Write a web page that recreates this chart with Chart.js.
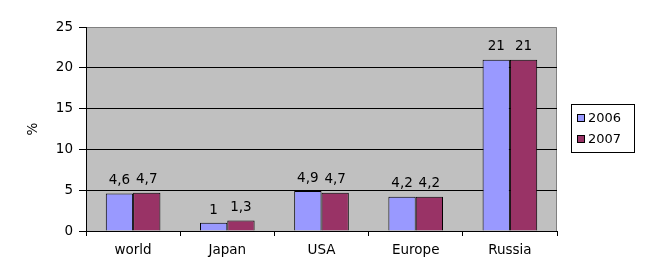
<!DOCTYPE html>
<html><head><meta charset="utf-8">
<script src="https://cdn.jsdelivr.net/npm/chart.js@4/dist/chart.umd.min.js"></script>
<style>html,body{margin:0;padding:0;background:#fff}#wrap{width:645px;height:278px}</style>
</head><body><div id="wrap"><canvas id="c" width="645" height="278"></canvas></div>
<script>
const categories = ["world", "Japan", "USA", "Europe", "Russia"];
const series2006 = [4.6, 1, 4.9, 4.2, 21];
const series2007 = [4.7, 1.3, 4.7, 4.2, 21];
const seriesNames = ["2006", "2007"];
const yTicks = [0, 5, 10, 15, 20, 25];
const FONT = "'DejaVu Sans', Verdana, sans-serif";

const bgPlugin = {
  id: 'bg',
  beforeDraw(chart) {
    const {ctx, chartArea: a} = chart;
    ctx.save();
    ctx.fillStyle = '#C0C0C0';
    ctx.fillRect(a.left, a.top, a.right - a.left, a.bottom - a.top);
    ctx.strokeStyle = '#808080';
    ctx.lineWidth = 1;
    ctx.beginPath();
    ctx.moveTo(a.left, a.top + 0.5); ctx.lineTo(a.right - 0.5, a.top + 0.5); ctx.lineTo(a.right - 0.5, a.bottom);
    ctx.stroke();
    ctx.restore();
  }
};
const labelPlugin = {
  id: 'vals',
  afterDatasetsDraw(chart) {
    const {ctx} = chart;
    ctx.save();
    ctx.font = '13.5px ' + FONT;
    ctx.fillStyle = '#000';
    ctx.textAlign = 'center';
    ctx.textBaseline = 'bottom';
    chart.data.datasets.forEach((ds, i) => {
      chart.getDatasetMeta(i).data.forEach((bar, j) => {
        const t = String(ds.data[j]).replace('.', ',');
        ctx.fillText(t, bar.x, bar.y - 6);
      });
    });
    ctx.restore();
  }
};
const legendPlugin = {
  id: 'boxlegend',
  afterDraw(chart) {
    const {ctx} = chart;
    const x = 571, y = 104, w = 63, h = 48;
    ctx.save();
    ctx.strokeStyle = '#000';
    ctx.lineWidth = 1;
    ctx.strokeRect(x + 0.5, y + 0.5, w, h);
    ctx.font = '13px ' + FONT;
    ctx.textBaseline = 'middle';
    chart.data.datasets.forEach((ds, i) => {
      const cy = y + 14 + i * 21;
      ctx.fillStyle = ds.backgroundColor;
      ctx.fillRect(x + 6.5, cy - 3.5, 7, 7);
      ctx.strokeRect(x + 6.5, cy - 3.5, 7, 7);
      ctx.fillStyle = '#000';
      ctx.fillText(ds.label, x + 17, cy + 1);
    });
    ctx.restore();
  }
};

new Chart(document.getElementById('c'), {
  type: 'bar',
  data: {
    labels: categories,
    datasets: [
      {label: seriesNames[0], data: series2006, backgroundColor: '#9999FF', borderColor: '#000', borderWidth: 1},
      {label: seriesNames[1], data: series2007, backgroundColor: '#993366', borderColor: '#000', borderWidth: 1}
    ]
  },
  options: {
    responsive: false,
    animation: false,
    layout: {padding: {left: 0, right: 88, top: 27, bottom: 0}},
    datasets: {bar: {categoryPercentage: 0.58, barPercentage: 1}},
    plugins: {legend: {display: false}, tooltip: {enabled: false}},
    scales: {
      x: {
        offset: true,
        grid: {offset: true, drawOnChartArea: false, drawTicks: true, tickLength: 5, color: '#000'},
        border: {display: true, color: '#000'},
        ticks: {color: '#000', font: {family: FONT, size: 13.5}, padding: 6},
        afterFit(s) { s.height = 47; }
      },
      y: {
        min: 0, max: 25,
        afterBuildTicks(s) { s.ticks = yTicks.map(v => ({value: v})); },
        grid: {
          color: c => (c.tick && (c.tick.value === 25 || c.tick.value === 0)) ? 'rgba(0,0,0,0)' : '#000',
          tickColor: '#000', tickLength: 7, drawTicks: true
        },
        border: {display: true, color: '#000'},
        ticks: {color: '#000', font: {family: FONT, size: 13.5}, padding: 6},
        title: {display: true, text: '%', color: '#000', font: {family: FONT, size: 13.5}, padding: {top: 25, bottom: 0}},
        afterFit(s) { s.width = 86; }
      }
    }
  },
  plugins: [bgPlugin, labelPlugin, legendPlugin]
});
</script></body></html>
